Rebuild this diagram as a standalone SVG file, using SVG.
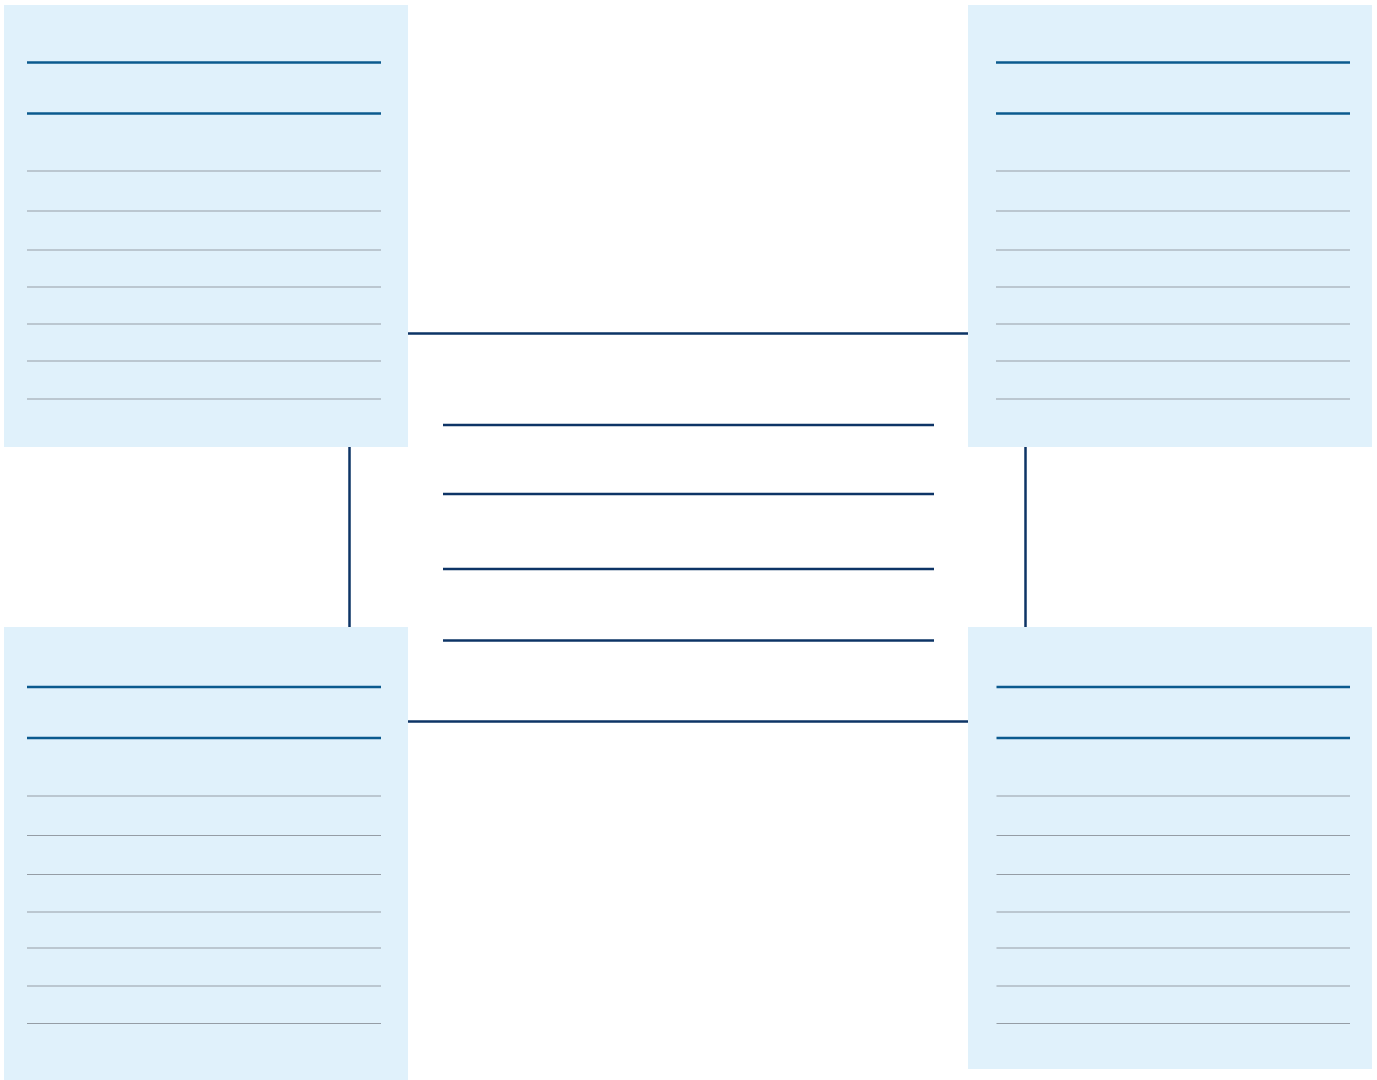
<svg xmlns="http://www.w3.org/2000/svg" width="1377" height="1080" viewBox="0 0 1377 1080">
<style>
.box{fill:#e0f1fb}
.hd{stroke:#0b5a8e;stroke-width:2.5}
.rw{stroke:#959da5;stroke-width:1.2}
.cn{stroke:#0d3466;stroke-width:2.5;fill:none}
</style>
<rect width="1377" height="1080" fill="#ffffff"/>
<g id="connectors">
<rect class="cn" x="349.5" y="333.5" width="676" height="388"/>
</g>
<g id="center">
<line class="cn" x1="443" y1="425" x2="934" y2="425"/>
<line class="cn" x1="443" y1="494" x2="934" y2="494"/>
<line class="cn" x1="443" y1="569" x2="934" y2="569"/>
<line class="cn" x1="443" y1="640.5" x2="934" y2="640.5"/>
</g>
<g id="node-tl">
<rect class="box" x="4" y="5" width="404" height="442"/>
<line class="hd" x1="27" y1="62.5" x2="381" y2="62.5"/>
<line class="hd" x1="27" y1="113.5" x2="381" y2="113.5"/>
<line class="rw" x1="27" y1="171" x2="381" y2="171"/>
<line class="rw" x1="27" y1="211" x2="381" y2="211"/>
<line class="rw" x1="27" y1="250" x2="381" y2="250"/>
<line class="rw" x1="27" y1="287" x2="381" y2="287"/>
<line class="rw" x1="27" y1="324" x2="381" y2="324"/>
<line class="rw" x1="27" y1="361" x2="381" y2="361"/>
<line class="rw" x1="27" y1="399" x2="381" y2="399"/>
</g>
<g id="node-tr">
<rect class="box" x="968" y="5" width="404" height="442"/>
<line class="hd" x1="996" y1="62.5" x2="1350" y2="62.5"/>
<line class="hd" x1="996" y1="113.5" x2="1350" y2="113.5"/>
<line class="rw" x1="996" y1="171" x2="1350" y2="171"/>
<line class="rw" x1="996" y1="211" x2="1350" y2="211"/>
<line class="rw" x1="996" y1="250" x2="1350" y2="250"/>
<line class="rw" x1="996" y1="287" x2="1350" y2="287"/>
<line class="rw" x1="996" y1="324" x2="1350" y2="324"/>
<line class="rw" x1="996" y1="361" x2="1350" y2="361"/>
<line class="rw" x1="996" y1="399" x2="1350" y2="399"/>
</g>
<g id="node-bl">
<rect class="box" x="4" y="627" width="404" height="453"/>
<line class="hd" x1="27" y1="687" x2="381" y2="687"/>
<line class="hd" x1="27" y1="738" x2="381" y2="738"/>
<line class="rw" x1="27" y1="796" x2="381" y2="796"/>
<line class="rw" x1="27" y1="835.5" x2="381" y2="835.5"/>
<line class="rw" x1="27" y1="874.5" x2="381" y2="874.5"/>
<line class="rw" x1="27" y1="912" x2="381" y2="912"/>
<line class="rw" x1="27" y1="948" x2="381" y2="948"/>
<line class="rw" x1="27" y1="986" x2="381" y2="986"/>
<line class="rw" x1="27" y1="1023.5" x2="381" y2="1023.5"/>
</g>
<g id="node-br">
<rect class="box" x="968" y="627" width="404" height="442"/>
<line class="hd" x1="996.5" y1="687" x2="1350" y2="687"/>
<line class="hd" x1="996.5" y1="738" x2="1350" y2="738"/>
<line class="rw" x1="996.5" y1="796" x2="1350" y2="796"/>
<line class="rw" x1="996.5" y1="835.5" x2="1350" y2="835.5"/>
<line class="rw" x1="996.5" y1="874.5" x2="1350" y2="874.5"/>
<line class="rw" x1="996.5" y1="912" x2="1350" y2="912"/>
<line class="rw" x1="996.5" y1="948" x2="1350" y2="948"/>
<line class="rw" x1="996.5" y1="986" x2="1350" y2="986"/>
<line class="rw" x1="996.5" y1="1023.5" x2="1350" y2="1023.5"/>
</g>
</svg>
